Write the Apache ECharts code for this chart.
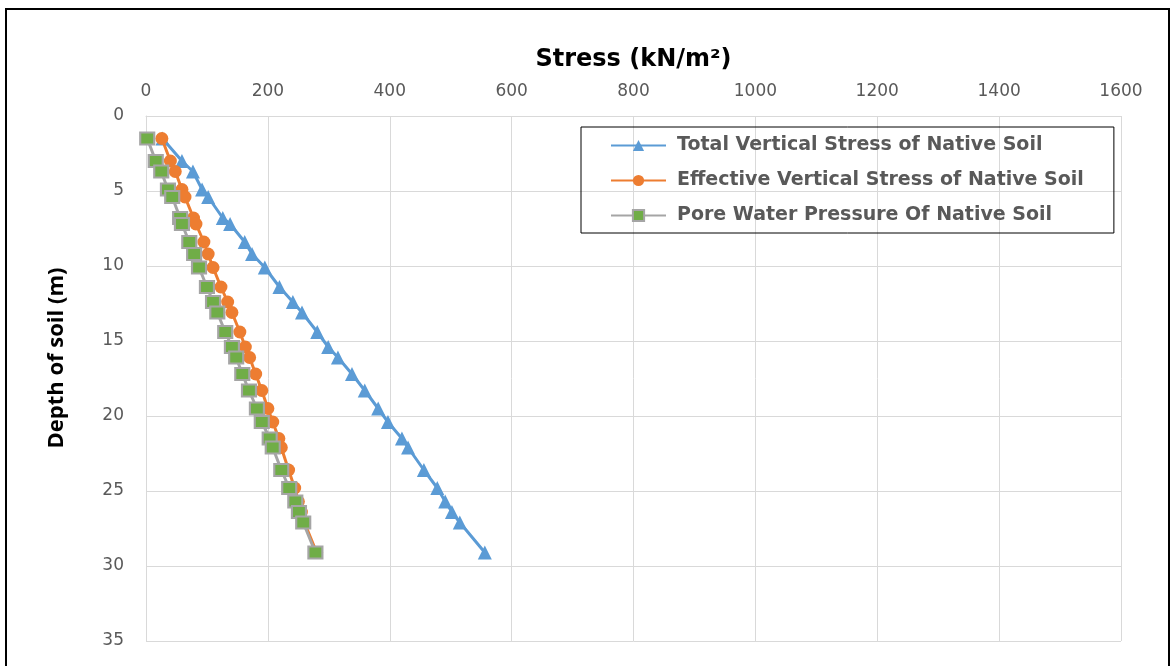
<!DOCTYPE html>
<html>
<head>
<meta charset="utf-8">
<script src="https://cdn.jsdelivr.net/npm/echarts@6/dist/echarts.min.js"></script>
<style>
  html, body { margin: 0; padding: 0; background: #ffffff; }
  #chart { width: 1174px; height: 666px; }
</style>
</head>
<body>
<div id="chart"></div>
<script>
// Depth below ground surface (m)
const depths = [1.5, 3.0, 3.7, 4.9, 5.4, 6.8, 7.2, 8.4, 9.2, 10.1, 11.4, 12.4, 13.1, 14.4,
                15.4, 16.1, 17.2, 18.3, 19.5, 20.4, 21.5, 22.1, 23.6, 24.8, 25.7, 26.4, 27.1, 29.1];
// Stresses at each depth (kN/m²)
const totalStress = [27, 59, 77, 92, 102, 126, 138, 162, 174, 195, 219, 241, 256, 281,
                     299, 315, 338, 359, 381, 397, 420, 430, 456, 478, 491, 502, 515, 556];
const effectiveStress = [26, 40, 48, 59, 64, 78, 82, 95, 102, 110, 123, 134, 141, 154,
                         163, 170, 180, 190, 200, 208, 218, 222, 234, 244, 250, 255, 260, 280];
const poreWater = [2, 16, 25, 36, 43, 56, 59, 71, 79, 87, 100, 110, 117, 130,
                   141, 148, 158, 169, 182, 190, 203, 208, 222, 235, 245, 251, 258, 278];

const seriesNames = [
  'Total Vertical Stress of Native Soil',
  'Effective Vertical Stress of Native Soil',
  'Pore Water Pressure Of Native Soil'
];

const pairs = vals => vals.map((v, i) => [v, depths[i]]);

const tickFont = { fontFamily: 'DejaVu Sans', fontSize: 17, color: '#595959', formatter: v => String(v) };
const gridLine = { lineStyle: { color: '#d9d9d9', width: 1 } };

const chart = echarts.init(document.getElementById('chart'), null, { renderer: 'canvas' });

chart.setOption({
  backgroundColor: '#ffffff',
  animation: false,
  graphic: [
    {
      type: 'rect',
      shape: { x: 6, y: 9, width: 1163, height: 680 },
      style: { fill: 'none', stroke: '#000000', lineWidth: 2 },
      silent: true
    },
    {
      // vertical axis title
      type: 'text',
      x: 57, y: 358,
      rotation: Math.PI / 2,
      style: {
        text: 'Depth of soil (m)',
        fontFamily: 'Liberation Sans Narrow, Open Sans',
        fontWeight: 'bold',
        fontSize: 22,
        fill: '#000000',
        align: 'center',
        verticalAlign: 'middle'
      },
      silent: true
    }
  ],
  grid: { left: 146, top: 116, right: 53, bottom: 25, containLabel: false },
  xAxis: {
    type: 'value',
    position: 'top',
    min: 0, max: 1600, interval: 200,
    name: 'Stress (kN/m²)',
    nameLocation: 'middle',
    nameGap: 44,
    nameTextStyle: { fontFamily: 'DejaVu Sans', fontWeight: 'bold', fontSize: 24, color: '#000000' },
    axisLine: { show: true, lineStyle: { color: '#d9d9d9' } },
    axisTick: { show: false },
    axisLabel: Object.assign({ margin: 16 }, tickFont),
    splitLine: gridLine
  },
  yAxis: {
    type: 'value',
    inverse: true,
    min: 0, max: 35, interval: 5,
    axisLine: { show: true, lineStyle: { color: '#d9d9d9' } },
    axisTick: { show: false },
    axisLabel: Object.assign({ margin: 22 }, tickFont),
    splitLine: gridLine
  },
  legend: {
    orient: 'vertical',
    left: 581, top: 127,
    padding: [9, 30, 8, 29],
    borderColor: '#000000',
    borderWidth: 1,
    itemWidth: 55,
    itemHeight: 14,
    itemGap: 16,
    textStyle: {
      fontFamily: 'DejaVu Sans', fontWeight: 'bold', fontSize: 19,
      color: '#595959', padding: [0, 0, 0, 6]
    },
    data: seriesNames
  },
  series: [
    {
      name: seriesNames[0],
      type: 'line',
      data: pairs(totalStress),
      symbol: 'triangle',
      symbolSize: 14,
      itemStyle: { color: '#5b9bd5' },
      lineStyle: { color: '#5b9bd5', width: 3 },
      z: 2
    },
    {
      name: seriesNames[1],
      type: 'line',
      data: pairs(effectiveStress),
      symbol: 'circle',
      symbolSize: 13,
      itemStyle: { color: '#ed7d31' },
      lineStyle: { color: '#ed7d31', width: 3 },
      z: 3
    },
    {
      name: seriesNames[2],
      type: 'line',
      data: pairs(poreWater),
      symbol: 'rect',
      symbolSize: [14, 12],
      itemStyle: { color: '#70ad47', borderColor: '#a5a5a5', borderWidth: 2 },
      lineStyle: { color: '#a5a5a5', width: 3 },
      z: 4
    }
  ]
});
</script>
</body>
</html>
